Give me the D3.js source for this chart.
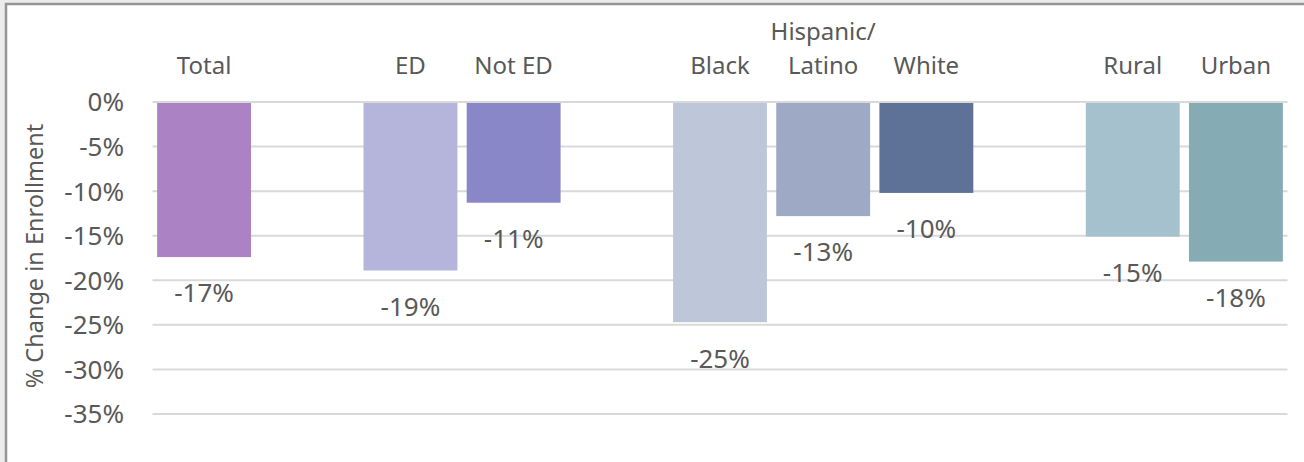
<!DOCTYPE html>
<html>
<head>
<meta charset="utf-8">
<script src="https://cdn.jsdelivr.net/npm/d3@7"></script>
<style>
  body { margin: 0; background: #ececec; }
  svg { display: block; }
</style>
</head>
<body>
<script>
// slots, blanks keep the gaps between groups
const slots = ["Total", "", "ED", "Not ED", "", "Black", "Hispanic/\nLatino", "White", "", "Rural", "Urban"];
const categories = ["Total", "ED", "Not ED", "Black", "Hispanic/\nLatino", "White", "Rural", "Urban"];
const values = [-17.4, -18.9, -11.3, -24.7, -12.8, -10.2, -15.1, -17.9];
const colors = ["#ab83c5", "#b5b4db", "#8987c7", "#bec7d9", "#9eaac5", "#5e7197", "#a6c1ce", "#85abb5"];
const yTicks = [0, -5, -10, -15, -20, -25, -30, -35];

const w = 1304, h = 462;
const plotLeft = 152.5, plotRight = 1287.5, plotTop = 102, plotBottom = 414;
const font = "'Noto Sans', 'Open Sans', sans-serif";
const textColor = "#595959";

const svg = d3.select("body").append("svg").attr("width", w).attr("height", h);

// chart frame
svg.append("rect")
  .attr("x", 6).attr("y", 4).attr("width", w + 10).attr("height", h + 10)
  .attr("fill", "white").attr("stroke", "#959595").attr("stroke-width", 2.5);

const x = d3.scaleBand().domain(d3.range(slots.length)).range([plotLeft, plotRight]).paddingInner(0.09).paddingOuter(0.045);
const y = d3.scaleLinear().domain([0, -35]).range([plotTop, plotBottom]);

// gridlines
svg.append("g")
  .selectAll("line")
  .data(yTicks)
  .enter()
  .append("line")
    .attr("x1", plotLeft).attr("x2", plotRight)
    .attr("y1", d => y(d)).attr("y2", d => y(d))
    .attr("stroke", "#d9d9d9").attr("stroke-width", 2);

// y tick labels
svg.append("g")
  .selectAll("text")
  .data(yTicks)
  .enter()
  .append("text")
    .attr("x", 124)
    .attr("y", d => y(d))
    .attr("dy", "0.36em")
    .attr("text-anchor", "end")
    .attr("font-family", font).attr("font-size", "26px").attr("fill", textColor)
    .text(d => d + "%");

// y title
svg.append("text")
  .attr("transform", "translate(43," + ((plotTop + plotBottom) / 2 - 2) + ") rotate(-90)")
  .attr("text-anchor", "middle")
  .attr("font-family", font).attr("font-size", "23.5px").attr("fill", textColor)
  .text("% Change in Enrollment");

const data = categories.map((c, i) => ({ cat: c, value: values[i], color: colors[i], slot: slots.indexOf(c) }));

// bars
svg.append("g")
  .selectAll("rect")
  .data(data)
  .enter()
  .append("rect")
    .attr("x", d => x(d.slot))
    .attr("y", y(0) + 1)
    .attr("width", x.bandwidth())
    .attr("height", d => y(d.value) - y(0) - 1)
    .attr("fill", d => d.color);

// value labels under bar ends
svg.append("g")
  .selectAll("text")
  .data(data)
  .enter()
  .append("text")
    .attr("x", d => x(d.slot) + x.bandwidth() / 2)
    .attr("y", d => y(d.value) + 36)
    .attr("dy", "0.36em")
    .attr("text-anchor", "middle")
    .attr("font-family", font).attr("font-size", "26px").attr("fill", textColor)
    .text(d => Math.round(d.value) + "%");

// category labels on top, multi-line ones grow upwards
const catLabels = svg.append("g")
  .selectAll("text")
  .data(data)
  .enter()
  .append("text")
    .attr("text-anchor", "middle")
    .attr("font-family", font).attr("font-size", "24px").attr("fill", textColor);

catLabels.each(function(d) {
  const lines = d.cat.split("\n");
  const cx = x(d.slot) + x.bandwidth() / 2;
  lines.forEach((l, j) => {
    d3.select(this).append("tspan")
      .attr("x", cx)
      .attr("y", 74 - (lines.length - 1 - j) * 34)
      .text(l);
  });
});
</script>
</body>
</html>
